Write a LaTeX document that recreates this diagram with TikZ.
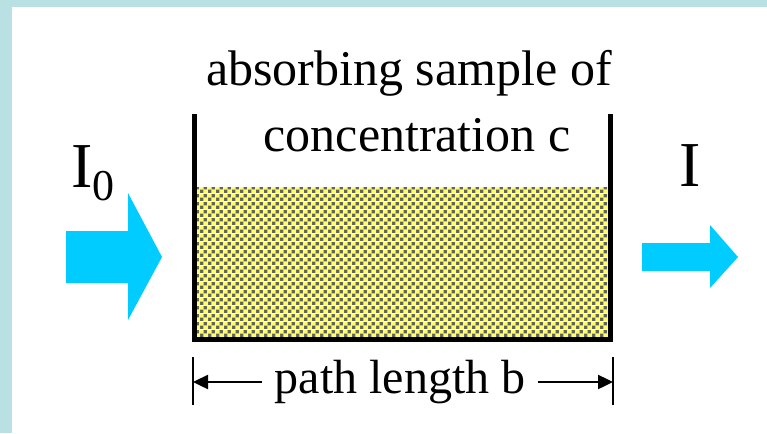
\documentclass[tikz,border=0pt]{standalone}
\usepackage{fontspec}
\setmainfont{Liberation Serif}
\usetikzlibrary{arrows.meta,patterns.meta}

\definecolor{frameblue}{HTML}{B9E0E3}
\definecolor{beamcyan}{HTML}{00CCFF}
\definecolor{liquidyellow}{HTML}{FFFF66}
\definecolor{speckgray}{HTML}{636363}

\tikzdeclarepattern{
  name=speckle,
  type=colored,
  bounding box={(0pt,0pt) and (8pt,8pt)},
  tile size={(8pt,8pt)},
  code={
    \fill[liquidyellow] (0pt,0pt) rectangle (8pt,8pt);
    \fill[speckgray] (0pt,0pt) rectangle (3.7pt,3.7pt);
    \fill[speckgray] (4pt,4pt) rectangle (7.7pt,7.7pt);
  }
}

\begin{document}
\begin{tikzpicture}[x=1pt, y=-1pt, >={Triangle[length=15pt,width=14pt]},
    bigtext/.style={font=\fontsize{50}{60}\selectfont, inner sep=0pt, anchor=base},
    beamlabel/.style={font=\fontsize{64}{70}\selectfont, inner sep=0pt, anchor=base west},
    beam/.style={fill=beamcyan},
    wall/.style={line width=5pt, line join=miter},
    dimline/.style={line width=2.4pt}]
    \useasboundingbox (0,0) rectangle (767,433);

    % frame
    \fill[frameblue] (0,0) rectangle (767,433);
    \fill[white] (12,7) rectangle (767,433);

    % sample in the cell
    \fill[pattern=speckle] (197,187) rectangle (608,337);
    \draw[wall] (194.5,114) -- (194.5,339.5) -- (610.5,339.5) -- (610.5,114);

    \node[bigtext] (title1) at (409,85) {absorbing sample of};
    \node[bigtext] (title2) at (417,151) {concentration c};

    % incoming and outgoing light
    \fill[beam] (66,231) -- (128,231) -- (128,193) -- (162,257)
        -- (128,320) -- (128,283) -- (66,283) -- cycle;
    \node[beamlabel] (inlabel) at (71,187)
        {I\raisebox{-13pt}{\fontsize{44}{44}\selectfont 0}};

    \fill[beam] (642,243) -- (710,243) -- (710,225) -- (738,257)
        -- (710,288) -- (710,271) -- (642,271) -- cycle;
    \node[beamlabel] (outlabel) at (679,186) {I};

    % path length
    \coordinate (tickl) at (193,382);
    \coordinate (tickr) at (613,382);
    \draw[dimline] (193,357) -- (193,405);
    \draw[dimline] (613,357) -- (613,405);
    \node[font=\fontsize{48}{58}\selectfont, inner xsep=12pt, inner ysep=0pt]
        (pathlen) at (400,382) {path length b};
    \draw[dimline, ->] (pathlen.west) -- (tickl);
    \draw[dimline, ->] (pathlen.east) -- (tickr);
\end{tikzpicture}
\end{document}
